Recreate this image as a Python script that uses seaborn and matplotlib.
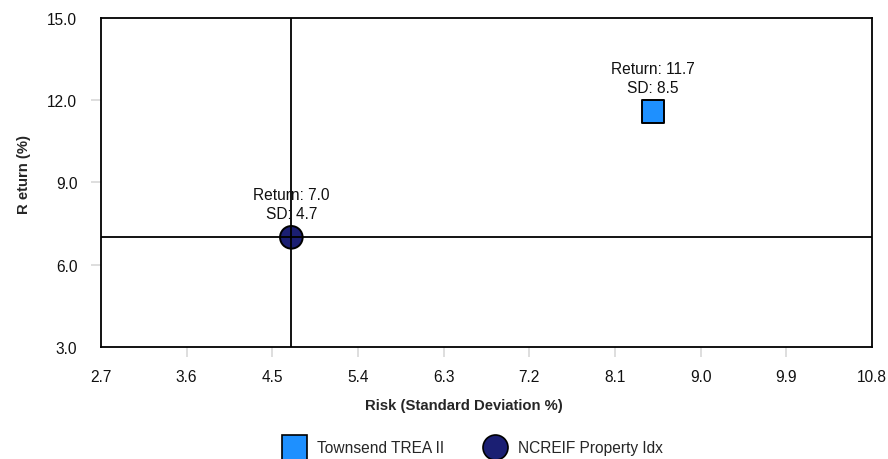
import matplotlib
matplotlib.use("Agg")
import matplotlib.pyplot as plt
from matplotlib.lines import Line2D
import seaborn as sns
import pandas as pd

names = ["Townsend TREA II", "NCREIF Property Idx"]
risk = [8.5, 4.7]
ret = [11.6, 7.0]
ret_labels = ["11.7", "7.0"]
sd_labels = ["8.5", "4.7"]
colors = ["#1E90FF", "#1B1F73"]
x_ticks = [2.7, 3.6, 4.5, 5.4, 6.3, 7.2, 8.1, 9.0, 9.9, 10.8]
y_ticks = [3.0, 6.0, 9.0, 12.0, 15.0]
bench_x, bench_y = 4.7, 7.0

sns.set_theme(style="white")
plt.rcParams['font.family'] = ['Liberation Sans', 'DejaVu Sans']

df = pd.DataFrame({"name": names, "risk": risk, "ret": ret})

fig = plt.figure(figsize=(8.88, 4.6), dpi=100)
ax = fig.add_axes([0.1137, 0.2435, 0.8683, 0.7152])

sns.scatterplot(data=df, x="risk", y="ret", hue="name", style="name",
                palette=dict(zip(names, colors)),
                markers=dict(zip(names, ["s", "o"])),
                s=265, edgecolor="black", linewidth=1.4, ax=ax, zorder=3,
                legend=False)
ax.axvline(bench_x, color="black", lw=1.3, zorder=4)
ax.axhline(bench_y, color="black", lw=1.3, zorder=4)

for xv, yv, rl, sl in zip(risk, ret, ret_labels, sd_labels):
    ax.annotate(f"Return: {rl}", (xv, yv), xytext=(0, 31),
                textcoords="offset points", ha="center", va="center",
                fontsize=11.2, color="#111111", zorder=5)
    ax.annotate(f"SD: {sl}", (xv, yv), xytext=(0, 16.8),
                textcoords="offset points", ha="center", va="center",
                fontsize=11.2, color="#111111", zorder=5)

ax.set_xlim(x_ticks[0], x_ticks[-1])
ax.set_ylim(y_ticks[0], y_ticks[-1])
ax.set_xticks(x_ticks)
ax.set_yticks(y_ticks)
ax.set_xticklabels([f"{v:.1f}" for v in x_ticks], fontsize=11.2, color="#111111")
ax.set_yticklabels([f"{v:.1f}" for v in y_ticks], fontsize=11.2, color="#111111")
ax.tick_params(axis="both", which="both", length=7, width=1.2, color="#d8d8d8",
               direction="out", bottom=True, left=True)
ax.tick_params(axis="x", pad=9)
ax.tick_params(axis="y", pad=10)
for axis in (ax.xaxis, ax.yaxis):
    ticks = axis.get_major_ticks()
    ticks[0].tick1line.set_visible(False)
    ticks[-1].tick1line.set_visible(False)
for sp in ax.spines.values():
    sp.set_color("black")
    sp.set_linewidth(1.3)

ax.set_xlabel("Risk (Standard Deviation %)", fontsize=10.7, fontweight="bold")
ax.set_ylabel("R eturn (%)", fontsize=10.7, fontweight="bold")
ax.xaxis.set_label_coords(0.471, -0.155)
ax.yaxis.set_label_coords(-0.0908, 0.526)

handles = [Line2D([], [], marker=m, color="none", markerfacecolor=c,
                  markeredgecolor="black", markeredgewidth=1.2, markersize=18)
           for m, c in zip(["s", "o"], colors)]
fig.legend(handles, names, loc="center", bbox_to_anchor=(0.530, 0.024),
           ncol=2, frameon=False, fontsize=11.2, handletextpad=0.45,
           columnspacing=2.3)

fig.savefig("out.png", dpi=100)
